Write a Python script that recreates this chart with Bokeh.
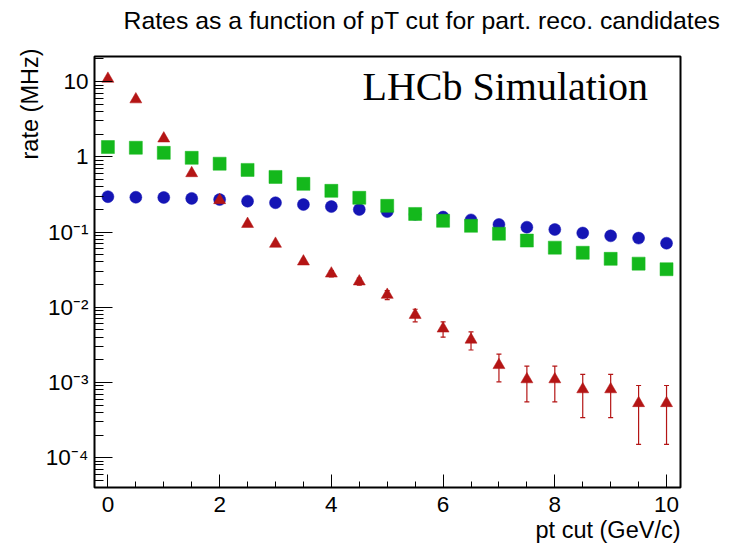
import math
from bokeh.plotting import figure
from bokeh.models import (Range1d, ColumnDataSource, Whisker, TeeHead, FixedTicker,
                          SingleIntervalTicker, CustomJSTickFormatter, Label, Title)
from bokeh.embed import file_html
from bokeh.resources import INLINE

# ---- data ----
pt_cut = [0.0, 0.5, 1.0, 1.5, 2.0, 2.5, 3.0, 3.5, 4.0, 4.5, 5.0,
          5.5, 6.0, 6.5, 7.0, 7.5, 8.0, 8.5, 9.0, 9.5, 10.0]
rate_blue = [0.295, 0.29, 0.288, 0.28, 0.27, 0.257, 0.245, 0.232, 0.218, 0.199, 0.187,
             0.172, 0.158, 0.145, 0.126, 0.116, 0.108, 0.097, 0.089, 0.083, 0.071]
rate_green = [1.35, 1.32, 1.13, 0.97, 0.81, 0.67, 0.54, 0.437, 0.353, 0.285, 0.223,
              0.174, 0.141, 0.121, 0.095, 0.077, 0.062, 0.053, 0.044, 0.038, 0.032]
rate_red = [10.9, 5.8, 1.75, 0.605, 0.265, 0.128, 0.0697, 0.0405, 0.028, 0.022, 0.0146,
            0.0079, 0.0052, 0.0037, 0.0017, 0.0011, 0.0011, 0.00081, 0.00081, 0.00053, 0.00053]
rate_red_err = [0.054, 0.04, 0.022, 0.013, 0.0085, 0.0059, 0.0043, 0.0033, 0.0027, 0.0024, 0.002,
                0.0015, 0.0012, 0.001, 0.00068, 0.00055, 0.00055, 0.00047, 0.00047, 0.00038, 0.00038]

title_text = "Rates as a function of pT cut for part. reco. candidates"
x_title = "pt cut (GeV/c)"
y_title = "rate (MHz)"
watermark = "LHCb Simulation"

y_decades = [-4, -3, -2, -1, 0, 1]

BLUE = "#1515b5"
GREEN = "#14b81c"
RED = "#b41515"
FONT = "Liberation Sans"

# ---- figure ----
p = figure(width=736, height=543,
           x_range=Range1d(-0.24, 10.25),
           y_range=Range1d(10 ** -4.397, 10 ** 1.334),
           y_axis_type="log",
           output_backend="svg", toolbar_location=None,
           min_border_left=94, min_border_right=56,
           min_border_top=56, min_border_bottom=56)
p.xgrid.visible = False
p.ygrid.visible = False
p.background_fill_color = "white"
p.border_fill_color = "white"
p.outline_line_color = "black"
p.outline_line_width = 2
p.outline_line_alpha = 1.0

# titles
p.title = Title(text=title_text, align="left", offset=29, standoff=0,
                padding=dict(left=0, right=0, top=0, bottom=23),
                text_font=FONT, text_font_size="24.8px", text_font_style="normal",
                text_color="black")
p.add_layout(Title(text=x_title, align="right", standoff=0,
                   text_font=FONT, text_font_size="23.5px", text_font_style="normal",
                   text_color="black"), "below")
p.add_layout(Title(text=y_title, align="right", standoff=0, offset=-8,
                   text_font=FONT, text_font_size="23.5px", text_font_style="normal",
                   text_color="black"), "left")

# x axis
p.xaxis.ticker = SingleIntervalTicker(interval=2, num_minor_ticks=4)
p.xaxis.major_tick_in = 13
p.xaxis.major_tick_out = 0
p.xaxis.minor_tick_in = 6
p.xaxis.minor_tick_out = 0
p.xaxis.major_label_standoff = 9

# y axis
yt = [10.0 ** d for d in y_decades]
ym = [k * 10.0 ** d for d in range(-5, 2) for k in range(2, 10)]
p.yaxis.ticker = FixedTicker(ticks=yt, minor_ticks=ym)
p.yaxis.major_tick_in = 18
p.yaxis.major_tick_out = 0
p.yaxis.minor_tick_in = 9
p.yaxis.minor_tick_out = 0
p.yaxis.major_label_standoff = 6
p.yaxis.formatter = CustomJSTickFormatter(code="""
    const e = Math.round(Math.log10(tick));
    if (e == 0) return "1";
    if (e == 1) return "10";
    const sup = {"-": "\u207b", "0": "\u2070", "1": "\u00b9", "2": "\u00b2", "3": "\u00b3",
                 "4": "\u2074", "5": "\u2075", "6": "\u2076", "7": "\u2077", "8": "\u2078", "9": "\u2079"};
    return "10" + String(e).split("").map(c => sup[c]).join("");
""")

for ax in (p.xaxis, p.yaxis):
    ax.axis_line_color = None
    ax.major_tick_line_color = "black"
    ax.minor_tick_line_color = "black"
    ax.major_label_text_font = FONT
    ax.major_label_text_font_size = "22.5px"
    ax.major_label_text_color = "black"

# ---- data marks ----
src_b = ColumnDataSource(dict(x=pt_cut, y=rate_blue))
src_g = ColumnDataSource(dict(x=pt_cut, y=rate_green))
lower = [v - e for v, e in zip(rate_red, rate_red_err)]
upper = [v + e for v, e in zip(rate_red, rate_red_err)]
src_r = ColumnDataSource(dict(x=pt_cut, y=rate_red, lower=lower, upper=upper))

wh = Whisker(source=src_r, base="x", lower="lower", upper="upper",
             line_color=RED, line_width=1.2,
             upper_head=TeeHead(size=5, line_color=RED, line_width=1.2),
             lower_head=TeeHead(size=5, line_color=RED, line_width=1.2),
             level="underlay")
p.add_layout(wh)

p.scatter("x", "y", source=src_b, marker="circle", size=12,
          fill_color=BLUE, line_color=BLUE, line_width=0.5)
p.scatter("x", "y", source=src_g, marker="square", size=13,
          fill_color=GREEN, line_color=GREEN, line_width=0.5)
p.scatter("x", "y", source=src_r, marker="triangle", size=12,
          fill_color=RED, line_color=RED, line_width=0.5)

p.add_layout(Label(x=268, y=401, x_units="screen", y_units="screen", text=watermark,
                   text_font="Liberation Serif", text_font_size="40px", text_color="black",
                   text_align="left", text_baseline="alphabetic"))

open("out.html", "w").write(file_html(p, INLINE))
